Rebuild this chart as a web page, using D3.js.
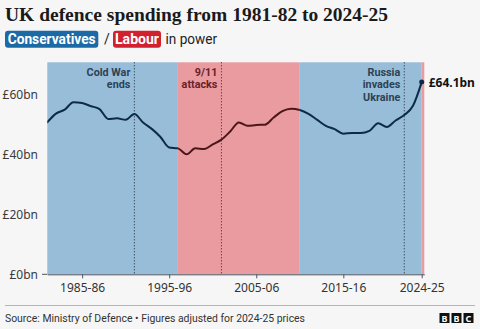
<!DOCTYPE html>
<html>
<head>
<meta charset="utf-8">
<script src="https://cdn.jsdelivr.net/npm/d3@7"></script>
<style>
  html, body { margin: 0; padding: 0; background: #f6f6f6; }
  svg { display: block; }
</style>
</head>
<body>
<svg id="chart" width="480" height="329"></svg>
<script>
// Financial year start (1981 = 1981-82)
const years = d3.range(1981, 2025);
// Defence spending, £bn in 2024-25 prices
const spending = [
  50.7, 53.6, 54.9, 57.4, 57.1, 56.1, 55.1, 51.8, 52.0, 51.5,
  53.5, 50.6, 48.5, 45.8, 42.3, 42.0, 40.0, 42.0, 41.8, 43.3,
  44.9, 47.6, 50.6, 49.5, 49.8, 49.9, 52.3, 54.4, 55.2, 54.8,
  53.5, 51.5, 49.5, 48.4, 46.9, 47.1, 47.1, 47.8, 50.4, 49.1,
  51.3, 53.1, 56.2, 64.1
];
// Party in power
const partyStart = [1981, 1996, 2010, 2024];
const partyEnd   = [1996, 2010, 2024, 2024.3];
const partyName  = ["Conservatives", "Labour", "Conservatives", "Labour"];
// Key events
const eventYears = [1991, 2001, 2022];
const eventLabels = [["Cold War", "ends"], ["9/11", "attacks"], ["Russia", "invades", "Ukraine"]];
// Axis ticks
const xTickYears = [1985, 1995, 2005, 2015, 2024];
const xTickLabels = ["1985-86", "1995-96", "2005-06", "2015-16", "2024-25"];
const yTickValues = [0, 20, 40, 60];

const colours = {
  Conservatives: { band: "#98bdd8", line: "#0d2b47", text: "#2c4257", key: "#1b6aa6" },
  Labour:        { band: "#e99ba0", line: "#4a171b", text: "#6a2227", key: "#d1202e" }
};

const svg = d3.select("#chart");
const sans = "'Noto Sans', 'Open Sans', sans-serif";
const compact = "Roboto, 'Noto Sans', sans-serif";

const x = d3.scaleLinear().domain([1981, 2024.3]).range([47.3, 424.3]);
const y = d3.scaleLinear().domain([0, 70.7]).range([274.3, 62.3]);

// Title
svg.append("text")
  .attr("x", 5).attr("y", 21)
  .attr("font-family", "'Liberation Serif', 'DejaVu Serif', serif")
  .attr("font-weight", "bold").attr("font-size", 19.5)
  .attr("fill", "#1a1a1a")
  .text("UK defence spending from 1981-82 to 2024-25");

// Subtitle with party keys
function keyBox(x0, x1, label, col, w) {
  svg.append("rect").attr("x", x0).attr("y", 30.7).attr("width", x1 - x0).attr("height", 17)
    .attr("rx", 3).attr("fill", col);
  svg.append("text").attr("x", (x0 + x1) / 2).attr("y", 44)
    .attr("text-anchor", "middle").attr("font-family", compact).attr("font-weight", "bold")
    .attr("font-size", 14).attr("fill", "#fff")
    .attr("textLength", w).attr("lengthAdjust", "spacingAndGlyphs").text(label);
}
keyBox(5, 98.3, "Conservatives", colours.Conservatives.key, 88);
svg.append("text").attr("x", 104).attr("y", 44).attr("font-family", compact).attr("font-size", 14)
  .attr("fill", "#222").text("/");
keyBox(113, 161, "Labour", colours.Labour.key, 44);
svg.append("text").attr("x", 165.5).attr("y", 44).attr("font-family", compact).attr("font-size", 14)
  .attr("fill", "#222").attr("textLength", 51.5).attr("lengthAdjust", "spacingAndGlyphs")
  .text("in power");

// Party bands
const bands = partyStart.map((s, i) => ({ s, e: partyEnd[i], party: partyName[i] }));
svg.append("g").selectAll("rect").data(bands).join("rect")
  .attr("x", d => x(d.s)).attr("width", d => x(d.e) - x(d.s))
  .attr("y", y(70.7)).attr("height", y(0) - y(70.7))
  .attr("fill", d => colours[d.party].band);

// Event markers
eventYears.forEach((yr, i) => {
  const band = bands.find(b => yr >= b.s && yr < b.e);
  svg.append("line").attr("x1", x(yr)).attr("x2", x(yr))
    .attr("y1", y(70.7)).attr("y2", y(0))
    .attr("stroke", "#1d2430").attr("stroke-width", 1).attr("stroke-dasharray", "1,2");
  eventLabels[i].forEach((ln, j) => {
    svg.append("text").attr("text-anchor", "end")
      .attr("x", x(yr) - 4).attr("y", 75.5 + j * 12.8)
      .attr("font-family", compact).attr("font-weight", "bold").attr("font-size", 10.8)
      .attr("fill", colours[band.party].text).text(ln);
  });
});

// Y axis labels
svg.append("g").selectAll("text").data(yTickValues).join("text")
  .attr("x", 38).attr("y", d => y(d) + 4.5).attr("text-anchor", "end")
  .attr("font-family", sans).attr("font-size", 12).attr("fill", "#3a3a3a")
  .text(d => "£" + d + "bn");
svg.append("line").attr("x1", 42).attr("x2", 47.3).attr("y1", y(0)).attr("y2", y(0))
  .attr("stroke", "#555");

// X axis
const xAxis = d3.axisBottom(x).tickValues(xTickYears)
  .tickFormat((d, i) => xTickLabels[i]).tickSize(4).tickSizeOuter(0);
const gx = svg.append("g").attr("transform", `translate(0,${y(0)})`).call(xAxis);
gx.select(".domain").attr("stroke", "#4a5560");
gx.selectAll(".tick line").attr("stroke", "#4a5560");
gx.selectAll(".tick text").attr("font-family", sans).attr("font-size", 12)
  .attr("fill", "#333").attr("dy", "0.9em");

// Spending line, coloured by party in power
const pts = years.map((yr, i) => ({ yr, v: spending[i] }));
const lineGen = d3.line().x(d => x(d.yr)).y(d => y(d.v)).curve(d3.curveMonotoneX);
const defs = svg.append("defs");
bands.forEach((b, i) => {
  defs.append("clipPath").attr("id", "clip" + i).append("rect")
    .attr("x", x(b.s)).attr("width", x(b.e) - x(b.s) + (i === 2 ? 3 : 0))
    .attr("y", 0).attr("height", 329);
  svg.append("path").datum(pts).attr("d", lineGen)
    .attr("clip-path", `url(#clip${i})`)
    .attr("fill", "none").attr("stroke", colours[b.party].line)
    .attr("stroke-width", 2).attr("stroke-linejoin", "round").attr("stroke-linecap", "round");
});

// Latest value
const last = pts[pts.length - 1];
svg.append("circle").attr("cx", x(last.yr)).attr("cy", y(last.v)).attr("r", 2.5)
  .attr("fill", colours.Conservatives.line);
svg.append("text").attr("x", x(last.yr) + 7).attr("y", y(last.v) + 4.5)
  .attr("font-family", sans).attr("font-weight", "bold").attr("font-size", 12)
  .attr("fill", "#111").text("£" + last.v + "bn");

// Footer
svg.append("line").attr("x1", 5).attr("x2", 475).attr("y1", 305.5).attr("y2", 305.5)
  .attr("stroke", "#b5b5b5");
svg.append("text").attr("x", 5).attr("y", 322)
  .attr("font-family", compact).attr("font-size", 11.5).attr("fill", "#333")
  .attr("textLength", 300).attr("lengthAdjust", "spacingAndGlyphs")
  .text("Source: Ministry of Defence \u2022 Figures adjusted for 2024-25 prices");
["B", "B", "C"].forEach((c, i) => {
  const bx = 439.5 + i * 12;
  svg.append("rect").attr("x", bx).attr("y", 313).attr("width", 10).attr("height", 10).attr("fill", "#111");
  svg.append("text").attr("x", bx + 5).attr("y", 321.5).attr("text-anchor", "middle")
    .attr("font-family", sans).attr("font-weight", "bold").attr("font-size", 9)
    .attr("fill", "#fff").text(c);
});
</script>
</body>
</html>
